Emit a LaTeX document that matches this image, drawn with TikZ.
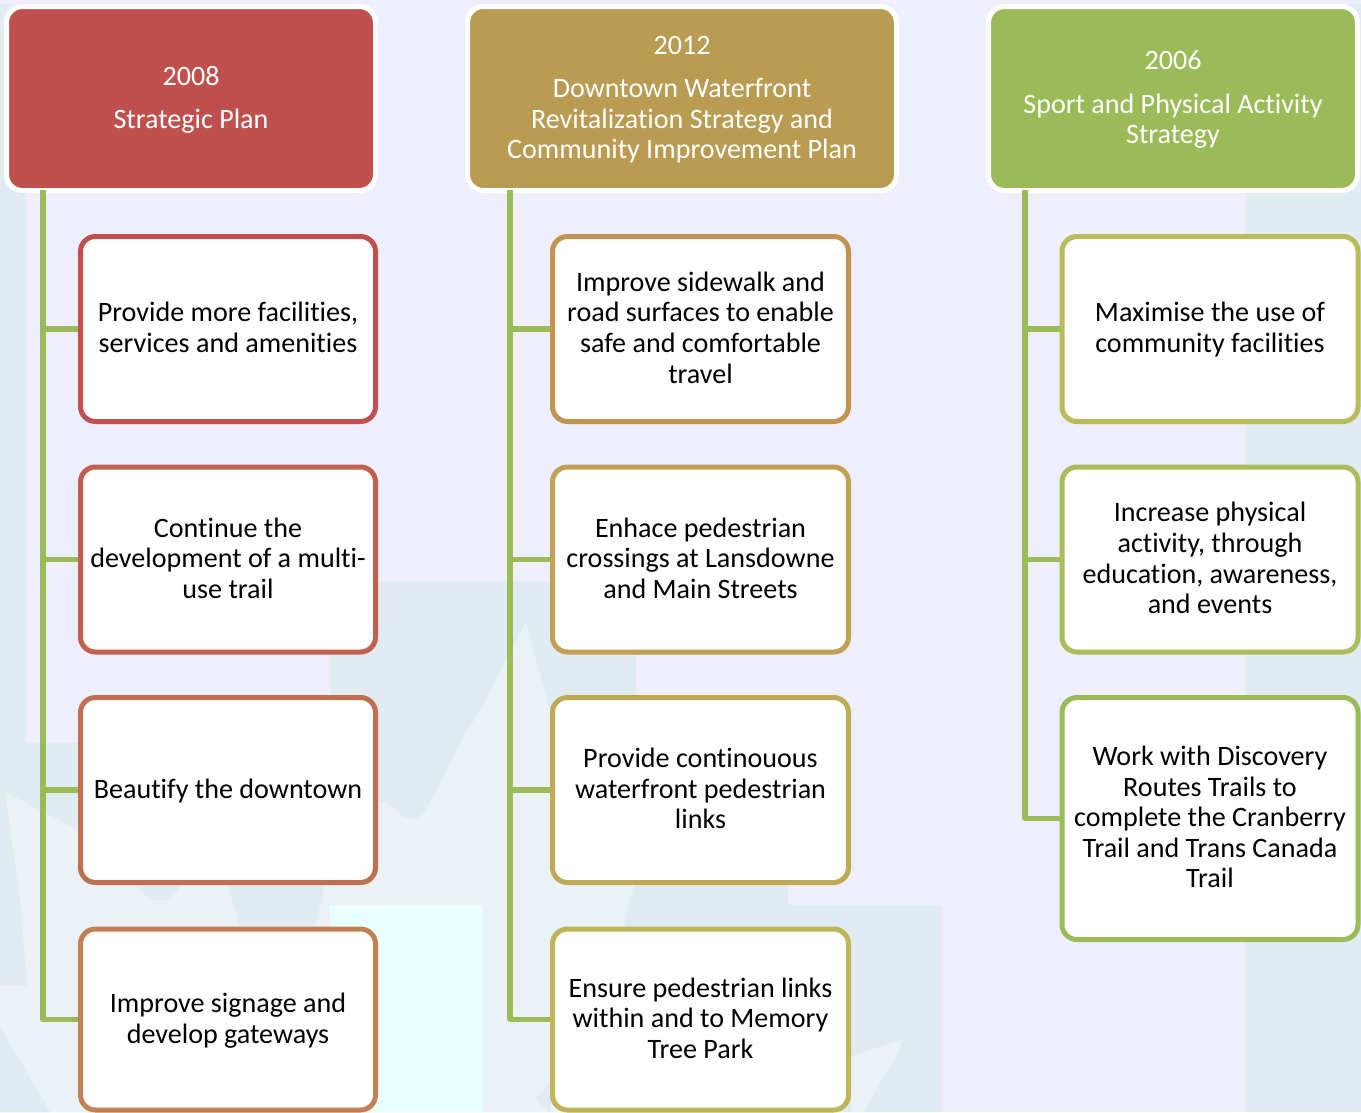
\documentclass[tikz,border=0pt]{standalone}
\usepackage{fontspec}
\setmainfont{Carlito}[Ligatures=NoCommon]
\definecolor{lav}{HTML}{EEEEFC}
\definecolor{dk}{HTML}{E0EBF2}
\definecolor{lt}{HTML}{EAF2F6}
\definecolor{cy}{HTML}{EAFFFF}
\definecolor{cA}{HTML}{C0504D}
\definecolor{cB}{HTML}{BA9B52}
\definecolor{cC}{HTML}{9BBB59}
\definecolor{aA}{HTML}{C0504D}
\definecolor{aB}{HTML}{C25F4F}
\definecolor{aC}{HTML}{C26F51}
\definecolor{aD}{HTML}{C38052}
\definecolor{bA}{HTML}{C29452}
\definecolor{bB}{HTML}{C0A052}
\definecolor{bC}{HTML}{BEAA55}
\definecolor{bD}{HTML}{BDB557}
\definecolor{gA}{HTML}{B8BD5A}
\definecolor{gB}{HTML}{ABBC5A}
\definecolor{gC}{HTML}{9BBB59}
\newcommand\fs{\rule{0pt}{24.4pt}}
\tikzset{
  txt/.style={align=center,inner sep=0pt,font=\fontsize{28.1}{30.6}\selectfont,
    execute at end node={\rule[-8pt]{0pt}{8pt}}},
  head/.style={txt,draw=white,line width=5pt,rounded corners=16pt,minimum height=184pt,text=white},
  leafbox/.style={txt,fill=white,line width=5pt,rounded corners=15pt,minimum height=185pt,text=black},
  conn/.style={draw=cC,line width=5.5pt,line join=round}
}
\begin{document}
\begin{tikzpicture}[x=1pt,y=-1pt]
\useasboundingbox (0,0) rectangle (1361,1112);
% background
\fill[lav] (0,0) rectangle (1361,1112);
\fill[dk] (0,4) -- (26,4) -- (26,743) -- (330,743) -- (330,581) -- (636,581) -- (636,743) -- (788,743) -- (788,905) -- (941,905) -- (941,1112) -- (0,1112) -- cycle;
\fill[dk] (1246,4) rectangle (1361,1112);
\fill[lt] (5,792) -- (78,830) -- (143,893) .. controls (158,905) and (170,902) .. (182,885) -- (300,872) -- (378,800) -- (393,806) .. controls (405,822) and (418,826) .. (428,806) -- (464,736) -- (482,708) -- (507,658) -- (526,622) -- (535,655) -- (550,711) -- (634,886) -- (624,926) -- (600,1112) -- (0,1112) -- (0,986) -- (27,986) -- (20,900) -- cycle;
\fill[dk] (228,885) -- (240,926) -- (315,926) -- (325,885) -- cycle;
\fill[dk] (0,1027) -- (50,1112) -- (0,1112) -- cycle;
\fill[dk] (552,1081) -- (535,1099) -- (550,1112) -- cycle;
\fill[lt] (851,1056) -- (902,1040) -- (898,1053) -- (875,1092) -- (864,1112) -- (851,1112) -- cycle;
\fill[cy] (330,905) rectangle (483,1112);
% headers
\node[head,fill=cA,minimum width=369pt] (h1) at (191,98.5) {\fs 2008\\[12.7pt]Strategic Plan};
\node[head,fill=cB,minimum width=429pt] (h2) at (682,98.5) {\fs 2012\\[12.7pt]Downtown Waterfront\\Revitalization Strategy and\\Community Improvement Plan};
\node[head,fill=cC,minimum width=369pt] (h3) at (1173,98.5) {\fs 2006\\[12.7pt]Sport and Physical Activity\\Strategy};
% leaves, column 1
\node[leafbox,draw=aA,minimum width=295pt] (a1) at (228,329) {\fs Provide more facilities,\\services and amenities};
\node[leafbox,draw=aB,minimum width=295pt] (a2) at (228,559.5) {\fs Continue the\\development of a multi-\\use trail};
\node[leafbox,draw=aC,minimum width=295pt] (a3) at (228,790) {\fs Beautify the downtown};
\node[leafbox,draw=aD,minimum width=295pt,minimum height=181pt] (a4) at (228,1019.5) {\fs Improve signage and\\develop gateways};
% leaves, column 2
\node[leafbox,draw=bA,minimum width=296pt] (b1) at (700.5,329) {\fs Improve sidewalk and\\road surfaces to enable\\safe and comfortable\\travel};
\node[leafbox,draw=bB,minimum width=296pt] (b2) at (700.5,559.5) {\fs Enhace pedestrian\\crossings at Lansdowne\\and Main Streets};
\node[leafbox,draw=bC,minimum width=296pt] (b3) at (700.5,790) {\fs Provide continouous\\waterfront pedestrian\\links};
\node[leafbox,draw=bD,minimum width=296pt,minimum height=181pt] (b4) at (700.5,1019.5) {\fs Ensure pedestrian links\\within and to Memory\\Tree Park};
% leaves, column 3
\node[leafbox,draw=gA,minimum width=296pt] (c1) at (1210,329) {\fs Maximise the use of\\community facilities};
\node[leafbox,draw=gB,minimum width=296pt] (c2) at (1210,559.5) {\fs Increase physical\\activity, through\\education, awareness,\\and events};
\node[leafbox,draw=gC,minimum width=296pt,minimum height=242pt] (c3) at (1210,818.5) {\fs Work with Discovery\\Routes Trails to\\complete the Cranberry\\Trail and Trans Canada\\Trail};
% trunks
\coordinate (ta) at ([xshift=39pt,yshift=3pt]h1.south west);
\coordinate (tb) at ([xshift=45pt,yshift=3pt]h2.south west);
\coordinate (tc) at ([xshift=39pt,yshift=3pt]h3.south west);
\draw[conn] (ta) |- (a1.west);
\draw[conn] (ta) |- (a2.west);
\draw[conn] (ta) |- (a3.west);
\draw[conn] (ta) |- (a4.west);
\draw[conn] (tb) |- (b1.west);
\draw[conn] (tb) |- (b2.west);
\draw[conn] (tb) |- (b3.west);
\draw[conn] (tb) |- (b4.west);
\draw[conn] (tc) |- (c1.west);
\draw[conn] (tc) |- (c2.west);
\draw[conn] (tc) |- (c3.west);
\end{tikzpicture}
\end{document}
